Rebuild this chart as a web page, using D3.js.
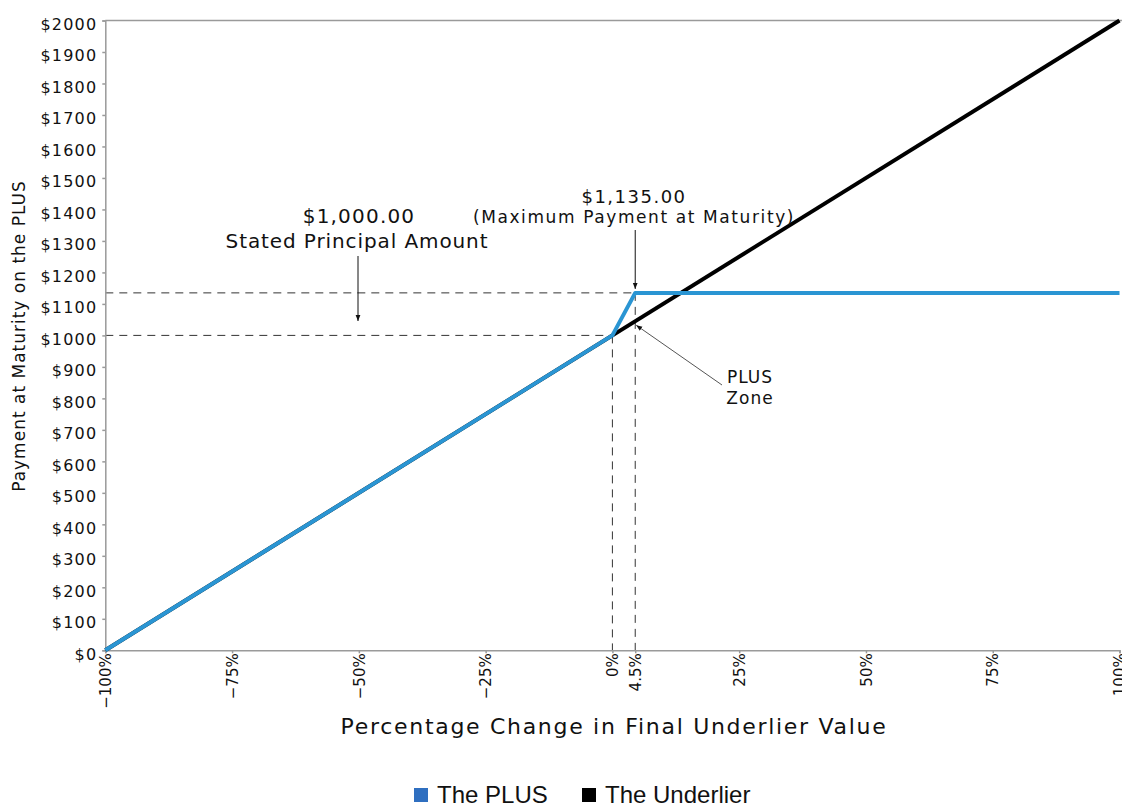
<!DOCTYPE html>
<html>
<head>
<meta charset="utf-8">
<script src="https://cdn.jsdelivr.net/npm/d3@7"></script>
<style>
  body { margin: 0; background: #fff; }
  svg text { font-family: "DejaVu Sans", sans-serif; fill: #111; }
  .axis path, .axis line { stroke: #9a9a9a; stroke-width: 1.5; }
  .axis text { font-size: 16px; }
  .legend text { font-family: "Liberation Sans", Arial, sans-serif; font-size: 24px; }
</style>
</head>
<body>
<svg id="chart" width="1122" height="804"></svg>
<script>
// data
var xTicks = [-100, -75, -50, -25, 0, 4.5, 25, 50, 75, 100];
var yTicks = [0, 100, 200, 300, 400, 500, 600, 700, 800, 900, 1000, 1100, 1200, 1300, 1400, 1500, 1600, 1700, 1800, 1900, 2000];
var plusX = [-100, 0, 4.5, 100];
var plusY = [0, 1000, 1135, 1135];
var underX = [-100, 100];
var underY = [0, 2000];
var seriesNames = ["The PLUS", "The Underlier"];
var seriesColors = ["#2a95d3", "#000000"];
var legendColors = ["#2f6fc0", "#000000"];
var principal = 1000, maxPay = 1135, capPct = 4.5;

var svg = d3.select('#chart');
var pL = 105.3, pR = 1119.5, pT = 20.5, pB = 650.3;

var x = d3.scaleLinear().domain([-100, 100]).range([pL, pR]);
var y = d3.scaleLinear().domain([0, 2000]).range([pB, pT]);

svg.append('defs').append('marker')
    .attr('id', 'arr')
    .attr('viewBox', '0 0 10 10')
    .attr('refX', 10).attr('refY', 5)
    .attr('markerWidth', 6).attr('markerHeight', 6)
    .attr('markerUnits', 'userSpaceOnUse')
    .attr('orient', 'auto')
  .append('path')
    .attr('d', 'M0,1L10,5L0,9z')
    .attr('fill', '#111');

// top border
svg.append('line')
    .attr('x1', pL).attr('x2', pR + 3)
    .attr('y1', pT).attr('y2', pT)
    .attr('stroke', '#9a9a9a').attr('stroke-width', 1.5);

// dashed reference lines
var dash = svg.append('g')
    .attr('stroke', '#333').attr('stroke-width', 1).attr('stroke-dasharray', '8,6').attr('fill', 'none');
dash.append('line')
    .attr('x1', pL).attr('x2', x(capPct))
    .attr('y1', y(maxPay)).attr('y2', y(maxPay));
dash.append('line')
    .attr('x1', pL).attr('x2', x(0))
    .attr('y1', y(principal)).attr('y2', y(principal));
dash.append('line')
    .attr('x1', x(0)).attr('x2', x(0))
    .attr('y1', y(principal)).attr('y2', pB);
dash.append('line')
    .attr('x1', x(capPct)).attr('x2', x(capPct))
    .attr('y1', y(maxPay)).attr('y2', pB);

// axes
var yAxis = svg.append('g')
    .attr('class', 'axis')
    .attr('transform', 'translate(' + pL + ',0)')
    .call(d3.axisLeft(y).tickValues(yTicks).tickSize(3).tickFormat(function(d) { return '$' + d; }));
yAxis.selectAll('text').attr('dy', '0.55em').attr('x', -8).style('letter-spacing', '1.2px');

var xAxis = svg.append('g')
    .attr('class', 'axis')
    .attr('transform', 'translate(0,' + pB + ')')
    .call(d3.axisBottom(x).tickValues(xTicks).tickSize(3)
      .tickFormat(function(d) { return (d < 0 ? '\u2212' + (-d) : d) + '%'; }));
xAxis.selectAll('text')
    .attr('transform', 'rotate(-90)')
    .attr('text-anchor', 'end')
    .attr('x', -3).attr('y', 0).attr('dy', '0.35em')
    .style('font-size', '15px');

// lines
var line = d3.line().x(function(d) { return x(d[0]); }).y(function(d) { return y(d[1]); });
svg.append('path')
    .datum(d3.zip(underX, underY))
    .attr('d', line)
    .attr('fill', 'none').attr('stroke', seriesColors[1]).attr('stroke-width', 4);
svg.append('path')
    .datum(d3.zip(plusX, plusY))
    .attr('d', line)
    .attr('fill', 'none').attr('stroke', seriesColors[0]).attr('stroke-width', 4)
    .attr('stroke-linejoin', 'round');

// annotations
function note(tx, ty, size, ls, str) {
  svg.append('text').attr('x', tx).attr('y', ty).attr('text-anchor', 'middle')
      .style('font-size', size + 'px').style('letter-spacing', ls + 'px').text(str);
}
note(359, 223, 20, 1.2, '$1,000.00');
note(357, 248, 20, 0.9, 'Stated Principal Amount');
svg.append('line')
    .attr('x1', 358).attr('x2', 358).attr('y1', 256).attr('y2', 321)
    .attr('stroke', '#111').attr('stroke-width', 1).attr('marker-end', 'url(#arr)');

note(634, 203, 18, 1.5, '$1,135.00');
note(634, 223, 17, 1.6, '(Maximum Payment at Maturity)');
svg.append('line')
    .attr('x1', x(capPct)).attr('x2', x(capPct)).attr('y1', 230).attr('y2', y(maxPay) - 4)
    .attr('stroke', '#111').attr('stroke-width', 1).attr('marker-end', 'url(#arr)');

note(750, 383, 17, 1, 'PLUS');
note(750, 404, 17, 1, 'Zone');
svg.append('line')
    .attr('x1', 722).attr('y1', 385).attr('x2', x(capPct) + 1).attr('y2', y(capPct * 10 + principal) + 4)
    .attr('stroke', '#555').attr('stroke-width', 1).attr('marker-end', 'url(#arr)');

// axis titles
svg.append('text')
    .attr('transform', 'translate(25,' + 336 + ')rotate(-90)')
    .attr('text-anchor', 'middle')
    .style('font-size', '17px').style('letter-spacing', '1px')
    .text('Payment at Maturity on the PLUS');
svg.append('text')
    .attr('x', 614).attr('y', 734)
    .attr('text-anchor', 'middle')
    .style('font-size', '22px').style('letter-spacing', '1.7px')
    .text('Percentage Change in Final Underlier Value');

// legend
var legX = [414, 582];
var leg = svg.append('g').attr('class', 'legend');
seriesNames.forEach(function(n, i) {
  leg.append('rect').attr('x', legX[i]).attr('y', 788).attr('width', 14).attr('height', 14).attr('fill', legendColors[i]);
  leg.append('text').attr('x', legX[i] + 23).attr('y', 803).text(n);
});
</script>
</body>
</html>
